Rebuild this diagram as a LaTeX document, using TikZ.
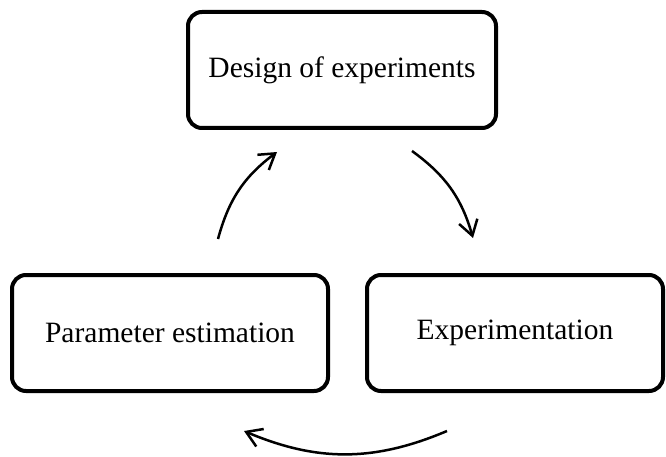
\documentclass[tikz,border=0pt]{standalone}
\usepackage{fontspec}
\setmainfont{Liberation Serif}
\usetikzlibrary{arrows.meta,positioning}

\begin{document}
\begin{tikzpicture}[
  x=1pt, y=-1pt,
  font=\fontsize{29.5}{35}\selectfont,
  stage/.style={draw, line width=4pt, rounded corners=14pt, align=center, outer sep=0pt, minimum height=116pt},
  arr/.style={-{Straight Barb[length=15pt,width=19pt]}, line width=2.5pt}
]
\useasboundingbox (0,0) rectangle (666,457);
\node[stage, minimum width=308pt] (design) at (342,70) {Design of experiments};
\node[stage, minimum width=316pt, below left=147pt and -140pt of design] (param) {Parameter estimation};
\node[stage, minimum width=296pt, right=39pt of param] (exper) {Experimentation};
% free ends of the cycle arrows
\coordinate (param out) at (218,239);
\coordinate (design in) at (277,152);
\coordinate (design out) at (412,151);
\coordinate (exper in) at (473,238);
\coordinate (exper out) at (447,431);
\coordinate (param in) at (244,431);
\draw[arr] (param out) to[bend left=19] (design in);
\draw[arr] (design out) to[bend left=19] (exper in);
\draw[arr] (exper out) to[bend left=23] (param in);
\end{tikzpicture}
\end{document}
